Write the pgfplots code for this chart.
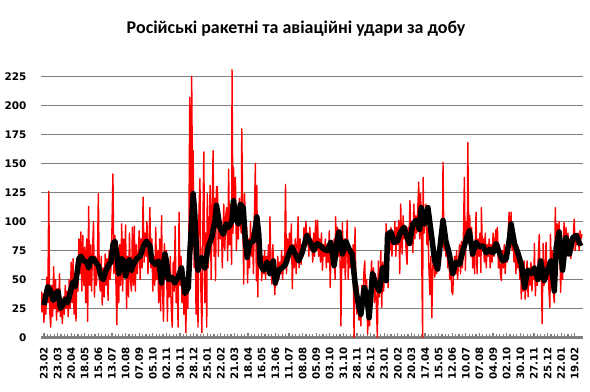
\documentclass[border=0pt]{standalone}
\usepackage{pgfplots}
\pgfplotsset{compat=1.18}
\usepackage{fontspec}
\setmainfont{DejaVu Sans}
\newfontfamily\titlefont{Carlito}
\begin{document}
\begin{tikzpicture}
\path[use as bounding box] (0,0) rectangle (590bp,392bp);
\node[font=\titlefont\bfseries\fontsize{18}{21}\selectfont] at (296bp,363bp) {Російські ракетні та авіаційні удари за добу};
\begin{axis}[
  at={(41bp,54.5bp)}, anchor=south west, scale only axis,
  width=542bp, height=272.6bp,
  xmin=0, xmax=1115, ymin=0, ymax=235,
  /pgf/number format/assume math mode=true,
  ytick={0,25,...,225},
  ymajorgrids, grid style={draw=gray, line width=1.3bp},
  axis x line*=bottom, axis y line*=left,
  x axis line style={draw=gray, line width=2bp, -},
  y axis line style={draw=none},
  ytick style={draw=none},
  xtick style={draw=gray, line width=1.2bp},
  tick align=inside, major tick length=4bp, minor tick length=3bp,
  xtick={6,34,...,1098}, minor x tick num=3,
  xticklabels={23.02,23.03,20.04,18.05,15.06,13.07,10.08,07.09,05.10,02.11,30.11,28.12,25.01,22.02,21.03,18.04,16.05,13.06,11.07,08.08,05.09,03.10,31.10,28.11,26.12,23.01,20.02,20.03,17.04,15.05,12.06,10.07,07.08,04.09,02.10,30.10,27.11,25.12,22.01,19.02},
  xticklabel style={font=\bfseries\fontsize{10.3}{11}\selectfont, yshift=-6bp, rotate=90, anchor=east},
  yticklabel style={font=\bfseries\fontsize{10.5}{12}\selectfont, xshift=-11bp},
]
\addplot[red, line width=1.4bp, line join=round] coordinates {
(0,40) (2,22) (4,38) (6,13) (8,35) (10,20) (12,52) (14,30) (16,126) (18,22) (20,9) (22,45) (24,18) (26,61) (28,25) (30,50) (32,15) (34,42) (36,22) (38,55) (40,18) (42,30) (44,12) (46,35) (48,20) (50,45) (52,25) (54,40) (56,18) (58,50) (60,25) (62,65) (64,30) (66,68) (68,20) (70,55) (72,14) (74,62) (76,40) (78,85) (80,55) (82,91) (84,40) (86,88) (88,45) (90,78) (92,30) (94,85) (96,14) (98,113) (100,45) (102,80) (104,40) (106,75) (108,100) (110,35) (112,70) (114,45) (116,65) (118,124) (120,50) (122,40) (124,70) (126,28) (128,60) (130,35) (132,72) (134,45) (136,68) (138,32) (140,75) (142,50) (144,60) (146,95) (148,141) (150,55) (152,88) (154,50) (156,11) (158,75) (160,30) (162,80) (164,45) (166,98) (168,40) (170,85) (172,60) (174,97) (176,25) (178,70) (180,35) (182,90) (184,50) (186,40) (188,95) (190,45)
(192,96) (194,40) (196,80) (198,55) (200,70) (202,92) (204,50) (206,85) (208,60) (210,121) (212,65) (214,90) (216,70) (218,100) (220,55) (222,80) (224,112) (226,60) (228,85) (230,40) (232,70) (234,45) (236,95) (238,50) (240,75) (242,30) (244,85) (246,23) (248,105) (250,40) (252,14) (254,81) (256,50) (258,75) (260,14) (262,60) (264,35) (266,70) (268,25) (270,9) (272,65) (274,40) (276,96) (278,30) (280,55) (282,9) (284,108) (286,45) (288,70) (290,30) (292,60) (294,20) (296,45) (298,4) (300,55) (302,25) (304,75) (306,207) (308,85) (310,225) (312,110) (313,161) (315,60) (317,100) (319,20) (321,80) (323,9) (325,110) (327,137) (329,40) (331,4) (333,95) (335,160) (337,30) (339,90) (341,9) (342,124) (344,60) (346,95) (348,131) (350,50) (352,110) (354,161) (356,70) (358,120) (359,49) (361,130) (363,130) (365,70) (367,110) (369,85) (371,100) (373,60) (376,115) (378,75) (380,105)
(382,112) (384,66) (386,145) (388,80) (390,115) (392,63) (393,231) (395,90) (396,147) (398,100) (400,138) (402,75) (404,110) (406,85) (408,120) (410,100) (412,90) (413,180) (415,110) (417,46) (419,124) (421,70) (423,95) (425,47) (427,85) (429,60) (431,100) (433,70) (435,90) (437,55) (439,105) (441,150) (443,49) (444,131) (446,35) (448,100) (450,60)
(452,75) (454,49) (456,70) (458,55) (460,75) (462,50) (464,70) (466,60) (468,80) (470,55) (471,104) (473,60) (475,46) (477,80) (479,55) (481,37) (483,60) (485,45) (487,70) (489,50) (491,65) (493,55) (495,75) (497,50) (499,70) (501,60) (503,132) (505,55) (507,85) (509,65) (511,90) (513,70) (515,98) (517,42) (519,80) (521,60) (523,85) (525,55) (527,80) (529,104) (531,60) (533,85) (535,63) (537,80) (539,70) (541,95) (543,75) (545,100) (547,80) (549,90) (551,70) (553,95) (555,75) (557,85) (559,65) (561,90)
(563,70) (565,101) (567,75) (569,101) (571,70) (573,85) (575,65) (577,90) (579,58) (581,80) (583,70) (585,85) (587,60) (589,80) (591,65) (593,92) (595,43) (597,80) (599,70) (601,60) (603,85) (605,50) (606,104) (608,75) (610,95) (612,70) (614,90) (616,50) (617,10) (619,80) (620,99) (622,60) (624,85) (626,50) (628,75) (630,101) (632,50) (634,80) (636,60) (638,70) (640,55) (642,80) (644,0) (646,95) (648,40)
(650,20) (652,45) (654,15) (656,35) (658,10) (660,45) (662,25) (664,55) (666,66) (668,30) (670,50) (672,3) (674,30) (676,10) (678,45) (680,66) (682,40) (684,60) (686,30) (688,55) (690,25) (692,0) (694,66) (696,35) (698,55) (699,75) (701,26) (703,65) (705,40) (707,70) (709,50) (710,98) (712,80) (714,43) (716,90) (718,75) (720,95)
(722,70) (724,90) (726,80) (728,100) (730,70) (732,95) (734,80) (736,101) (738,55) (740,115) (741,95) (743,72) (745,105) (747,85) (749,95) (751,75) (753,63) (755,95) (757,80) (759,118) (761,90) (763,100) (765,73) (767,115) (769,85) (771,105) (773,90) (775,110) (777,134) (779,85) (781,124) (783,80) (785,0) (786,138) (788,90) (790,100) (792,115)
(794,80) (796,95) (798,60) (800,37) (802,70) (804,17) (806,60) (808,75) (810,52) (812,70) (814,55) (816,65) (818,75) (820,90) (822,70) (824,100) (826,85) (827,151) (829,75) (831,95) (833,70) (835,80) (837,60) (839,70) (841,50) (843,65) (845,40) (847,37) (849,60) (851,70) (853,55) (855,75) (857,50) (859,65) (861,80) (863,55) (865,83) (867,60) (869,90) (871,138) (873,58) (875,100) (877,85) (878,168) (880,90)
(882,105) (884,70) (886,95) (888,60) (890,80) (892,55) (894,90) (895,108) (897,55) (899,85) (901,70) (903,90) (905,56) (906,112) (908,75) (910,85) (912,65) (914,90) (916,60) (918,80) (920,70) (922,85) (924,60) (926,80) (928,65) (930,90) (932,70) (934,85) (936,93) (938,75) (939,95) (941,60) (943,80) (945,55) (947,49) (949,75)
(951,60) (953,80) (955,55) (957,75) (959,65) (961,90) (963,108) (965,80) (967,108) (969,75) (971,90) (973,65) (975,85) (977,55) (979,80) (981,60) (983,70) (985,50) (987,65) (988,33) (990,55) (992,40) (994,66) (996,33) (998,50) (1000,66) (1002,35) (1004,60) (1006,45) (1008,65) (1010,40) (1012,60) (1014,50) (1015,81) (1017,36) (1019,55) (1021,45) (1023,70) (1025,89) (1027,50) (1029,60) (1031,12) (1033,81) (1035,45) (1037,60) (1039,82) (1041,50) (1043,65) (1045,40) (1047,26) (1048,89) (1050,60) (1052,75) (1054,40) (1056,30) (1058,112) (1060,70) (1062,98) (1064,80) (1066,100) (1068,60) (1069,39) (1071,75) (1073,50) (1075,85) (1076,99) (1078,66) (1080,95) (1082,70) (1084,90) (1086,75) (1088,85) (1090,68) (1092,80) (1094,75) (1096,95) (1097,102) (1099,75) (1101,85) (1103,80) (1105,90) (1107,75) (1109,92) (1111,85) (1113,89)
};
\addplot[black, line width=5.5bp, line join=round] coordinates {
(6,28) (14,44) (20,40) (25,32) (31,38) (35,40) (40,25) (45,28) (50,33) (55,30) (62,42) (66,48) (70,44) (74,55) (78,68) (82,70) (88,66) (94,65) (98,60) (103,68) (108,68) (114,64) (118,62) (124,52) (128,50) (134,58) (140,63) (144,65) (148,80) (152,83) (156,72) (160,55) (166,68) (170,66) (174,53) (178,62) (182,67) (186,58) (190,63) (197,68) (204,70) (211,79) (217,83) (224,79) (228,66) (235,63) (242,66) (248,47) (255,72) (258,66) (262,50) (269,52) (275,47) (282,52) (289,60) (296,38) (303,43) (306,72) (310,100) (313,124) (316,109) (320,72) (323,58) (330,69) (337,60) (344,78) (351,86) (358,101) (361,114) (368,95) (375,89) (381,98) (386,95) (393,101) (396,118) (400,104) (406,98) (410,115) (416,112) (420,86) (424,69) (430,82) (437,83) (444,104) (448,89) (451,63) (458,58) (465,65) (471,55) (478,66) (482,47) (489,58) (496,60) (503,63) (510,72) (516,78) (523,72) (530,66) (537,73) (547,88) (554,82) (561,75) (568,81) (575,79) (582,76) (589,75) (596,82) (603,62) (610,85) (613,91) (620,72) (627,83) (634,76) (640,72) (647,43) (654,26) (658,20) (665,43) (670,37) (675,17) (682,55) (689,46) (696,40) (703,60) (710,49) (713,89) (720,91) (726,82) (733,83) (740,91) (747,95) (751,89) (758,81) (765,98) (772,101) (779,93) (782,112) (789,98) (796,112) (803,89) (810,66) (816,59) (820,75) (827,101) (833,83) (840,72) (847,55) (854,65) (861,63) (868,75) (875,85) (881,92) (888,72) (895,82) (902,78) (909,79) (916,73) (923,76) (930,73) (936,81) (943,73) (950,66) (957,68) (964,86) (967,98) (974,81) (981,73) (988,63) (995,43) (1001,58) (1008,55) (1015,60) (1022,50) (1028,66) (1035,49) (1042,58) (1049,66) (1056,40) (1060,78) (1066,91) (1073,58) (1080,86) (1087,72) (1094,86) (1101,88) (1108,81) (1113,82)
};
\end{axis}
\end{tikzpicture}
\end{document}
